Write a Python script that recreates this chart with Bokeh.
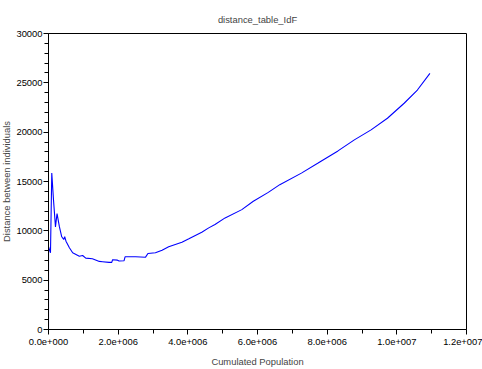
from bokeh.plotting import figure
from bokeh.models import FixedTicker, Title
from bokeh.embed import file_html
from bokeh.resources import INLINE

# ---- data ----
cum_population = [0, 0, 0.057e6, 0.094e6, 0.143e6, 0.2e6, 0.245e6, 0.314e6, 0.38e6,
                  0.437e6, 0.465e6, 0.502e6, 0.6e6, 0.694e6, 0.885e6, 0.98e6, 1.07e6,
                  1.26e6, 1.46e6, 1.55e6, 1.74e6, 1.816e6, 1.84e6, 1.98e6, 2.027e6,
                  2.17e6, 2.198e6, 2.5e6, 2.786e6, 2.855e6, 3.07e6, 3.26e6, 3.45e6,
                  3.83e6, 4.03e6, 4.4e6, 4.6e6, 4.78e6, 5.07e6, 5.55e6, 5.88e6, 6.31e6,
                  6.64e6, 7.26e6, 7.74e6, 8.31e6, 8.78e6, 9.26e6, 9.73e6, 10.21e6,
                  10.59e6, 10.95e6]
distance = [0, 8400, 7780, 15860, 13160, 10400, 11750, 10400, 9400,
            9120, 9400, 8950, 8280, 7780, 7430, 7500, 7230,
            7170, 6900, 6870, 6800, 6800, 7070, 7030, 6950,
            6970, 7370, 7370, 7330, 7700, 7780, 8040, 8380,
            8850, 9190, 9850, 10300, 10640, 11310, 12150, 13000, 13900,
            14680, 15850, 16870, 18100, 19220, 20230, 21410, 22930,
            24270, 25960]

x_major = [0, 2e6, 4e6, 6e6, 8e6, 10e6, 12e6]
x_minor = [1e6, 3e6, 5e6, 7e6, 9e6, 11e6]
x_labels = ["0.0e+000", "2.0e+006", "4.0e+006", "6.0e+006", "8.0e+006", "1.0e+007", "1.2e+007"]
y_major = [0, 5000, 10000, 15000, 20000, 25000, 30000]
y_minor = [v for v in range(0, 30001, 1000) if v % 5000]
y_labels = ["0", "5000", "10000", "15000", "20000", "25000", "30000"]

title_text = "distance_table_IdF"
x_title = "Cumulated Population"
y_title = "Distance between individuals"

FONT = "Liberation Sans"
FS = "9.4px"

p = figure(width=482, height=369, output_backend="svg", toolbar_location=None,
           x_range=(0, 1.2e7), y_range=(0, 30000),
           min_border_left=46, min_border_right=16, min_border_top=33, min_border_bottom=39,
           title=title_text)
p.title.align = "center"
p.title.text_font = FONT
p.title.text_font_size = FS
p.title.text_font_style = "normal"
p.title.standoff = 18

p.line(cum_population, distance, line_color="#0000FF", line_width=1.1)

p.xgrid.visible = False
p.ygrid.visible = False
p.outline_line_color = "black"
p.outline_line_width = 1
p.outline_line_alpha = 1.0
p.background_fill_color = "white"
p.border_fill_color = "white"

p.xaxis.ticker = FixedTicker(ticks=x_major, minor_ticks=x_minor)
p.xaxis.major_label_overrides = {t: l for t, l in zip(x_major, x_labels)}
p.yaxis.ticker = FixedTicker(ticks=y_major, minor_ticks=y_minor)
p.yaxis.major_label_overrides = {t: l for t, l in zip(y_major, y_labels)}

for ax in (p.xaxis, p.yaxis):
    ax.axis_line_color = "black"
    ax.major_tick_line_color = "black"
    ax.minor_tick_line_color = "black"
    ax.major_tick_in = 0
    ax.minor_tick_in = 0
    ax.major_tick_out = 5
    ax.minor_tick_out = 4
    ax.major_label_text_font = FONT
    ax.major_label_text_font_size = FS
    ax.major_label_text_color = "black"
    ax.major_label_standoff = 1

p.xaxis.major_label_standoff = 4
p.xaxis.axis_label = x_title
p.xaxis.axis_label_text_font = FONT
p.xaxis.axis_label_text_font_size = FS
p.xaxis.axis_label_text_font_style = "normal"
p.xaxis.axis_label_standoff = 8

ytitle = Title(text=y_title, align="center", vertical_align="top", text_font=FONT,
               text_font_size=FS, text_font_style="normal", standoff=0)
p.add_layout(ytitle, "left")

open("out.html", "w").write(file_html(p, INLINE))
